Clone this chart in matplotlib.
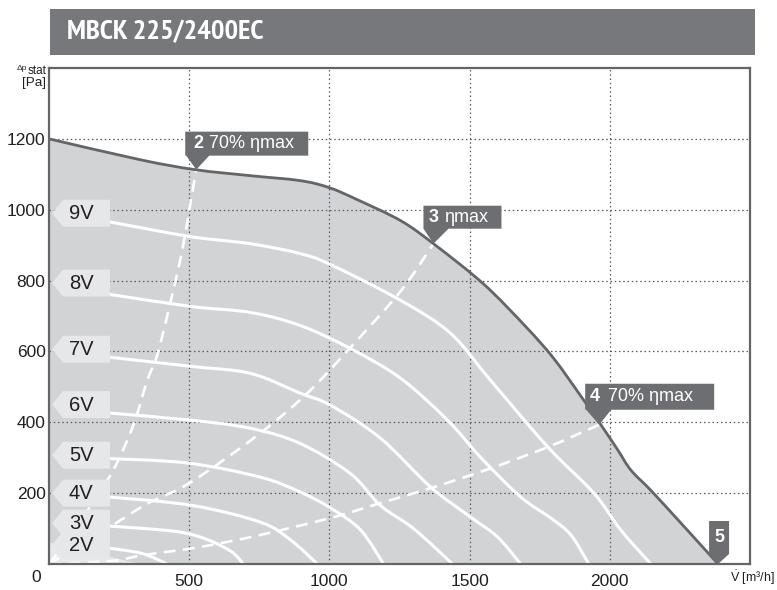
import matplotlib
matplotlib.use("Agg")
import numpy as np
import matplotlib.pyplot as plt
import matplotlib.transforms as mtransforms
from matplotlib import font_manager as fm
from matplotlib.font_manager import FontProperties
from matplotlib.patches import Polygon, Rectangle, PathPatch
from matplotlib.path import Path

plt.rcParams['font.family'] = ['Liberation Sans', 'DejaVu Sans']
plt.rcParams['mathtext.fontset'] = 'custom'
plt.rcParams['mathtext.rm'] = 'Liberation Sans'

# Chart data
title = "MBCK 225/2400EC"

# maximum curve
max_x = [0, 325, 521, 718, 896, 1000, 1100, 1254, 1371, 1550, 1700, 1800, 1900, 1968, 2029, 2075, 2146, 2254, 2386]
max_y = [1200, 1141, 1113, 1096, 1082, 1062, 1028, 969, 904, 790, 670, 580, 470, 393, 321, 265, 208, 115, 0]

# speed curves (control voltage)
v9_x = [200, 504, 718, 896, 1004, 1254, 1432, 1575, 1779, 1943, 2039, 2146]
v9_y = [968, 924, 904, 876, 845, 744, 651, 518, 330, 200, 96, 0]
v8_x = [200, 504, 718, 896, 1075, 1254, 1421, 1539, 1682, 1789, 1861, 1925]
v8_y = [763, 727, 710, 673, 608, 524, 406, 301, 189, 130, 82, 0]
v7_x = [200, 504, 718, 896, 1004, 1182, 1361, 1504, 1600, 1682]
v7_y = [585, 558, 538, 482, 448, 355, 217, 132, 76, 0]
v6_x = [200, 504, 718, 896, 1075, 1182, 1300, 1439]
v6_y = [427, 406, 383, 340, 255, 165, 100, 0]
v5_x = [200, 493, 754, 896, 1004, 1111, 1193]
v5_y = [298, 285, 245, 203, 158, 96, 0]
v4_x = [200, 504, 754, 861, 957]
v4_y = [190, 166, 118, 68, 0]
v3_x = [200, 450, 560, 650, 693]
v3_y = [108, 92, 70, 35, 0]
v2_x = [200, 330, 421]
v2_y = [46, 30, 0]
v1_x = [0, 100, 218, 330]
v1_y = [60, 45, 20, 0]

speed_labels = ["9V", "8V", "7V", "6V", "5V", "4V", "3V", "2V"]
label_y = [990, 793, 606, 450, 307, 200, 115, 54]

# efficiency lines (dashed)
eff2_x = [0, 60, 146, 229, 300, 350, 386, 432, 475, 504, 525]
eff2_y = [0, 60, 161, 265, 390, 518, 590, 735, 885, 1017, 1113]
eff3_x = [0, 218, 350, 504, 743, 921, 1075, 1254, 1371]
eff3_y = [0, 105, 170, 230, 363, 482, 611, 770, 904]
eff4_x = [0, 218, 336, 539, 754, 1014, 1182, 1361, 1575, 1779, 1962]
eff4_y = [0, 8, 25, 48, 82, 132, 172, 214, 270, 330, 393]


def smooth_path(xs, ys, close=False):
    # Catmull-Rom through the points, drawn as cubic Bezier segments
    pts = np.column_stack([xs, ys]).astype(float)
    n = len(pts)
    verts = [pts[0]]
    codes = [Path.MOVETO]
    for i in range(n - 1):
        p0 = pts[i - 1] if i > 0 else pts[i]
        p1, p2 = pts[i], pts[i + 1]
        p3 = pts[i + 2] if i + 2 < n else pts[i + 1]
        verts += [p1 + (p2 - p0) / 6.0, p2 - (p3 - p1) / 6.0, p2]
        codes += [Path.CURVE4] * 3
    if close:
        verts += [(xs[-1], 0), (xs[0], 0), (xs[0], 0)]
        codes += [Path.LINETO, Path.LINETO, Path.CLOSEPOLY]
    return Path(verts, codes)


fig = plt.figure(figsize=(7.77, 5.90), dpi=100)
ax = fig.add_axes([0.0631, 0.0441, 0.9022, 0.8407])
ax.set_xlim(0, 2500)
ax.set_ylim(0, 1400)

fill_col = "#d1d3d4"
dark = "#646569"
box_col = "#6d6e71"

ax.add_patch(PathPatch(smooth_path(max_x, max_y, close=True), facecolor=fill_col,
                       edgecolor="none", zorder=1))
ax.add_patch(PathPatch(smooth_path(v1_x, v1_y, close=True), facecolor="#e8e9ea",
                       edgecolor="none", zorder=1.2))

ax.grid(True, color="#58595b", linestyle=(0, (1.2, 2.2)), linewidth=0.9, zorder=1.5)

for xs, ys in [(v9_x, v9_y), (v8_x, v8_y), (v7_x, v7_y), (v6_x, v6_y),
               (v5_x, v5_y), (v4_x, v4_y), (v3_x, v3_y), (v2_x, v2_y)]:
    ax.add_patch(PathPatch(smooth_path(xs, ys), facecolor="none", edgecolor="white",
                           lw=2.2, zorder=2))

for xs, ys in [(eff2_x, eff2_y), (eff3_x, eff3_y), (eff4_x, eff4_y)]:
    ax.add_patch(PathPatch(smooth_path(xs, ys), facecolor="none", edgecolor="white",
                           lw=1.9, linestyle=(0, (4.5, 2.8)), zorder=2.2))

ax.add_patch(PathPatch(smooth_path(max_x, max_y), facecolor="none", edgecolor=dark,
                       lw=2.0, zorder=3))

# pixel offset transform helper
pix = mtransforms.Affine2D().scale(1.0 / fig.dpi) + fig.dpi_scale_trans


def at(x, y):
    return pix + mtransforms.ScaledTranslation(x, y, ax.transData)


# speed labels on the left
for lab, yy in zip(speed_labels, label_y):
    tr = at(0, yy)
    shape = [(3, 0), (14, 13.5), (61, 13.5), (61, -13.5), (14, -13.5)]
    ax.add_patch(Polygon(shape, closed=True, transform=tr, facecolor="#e6e7e8",
                         edgecolor="none", zorder=5, clip_on=False))
    ax.text(32, -0.5, lab, transform=tr, ha="center", va="center",
            fontsize=14.5, color="#231f20", zorder=6)


# markers on the maximum curve
def marker(x, y, num, rest, left, right, bot, top, tl, trr, nx, rx):
    tr = at(x, y)
    shape = [(0, 0), (trr, bot), (right, bot), (right, top), (left, top),
             (left, bot), (tl, bot)]
    ax.add_patch(Polygon(shape, closed=True, transform=tr, facecolor=box_col,
                         edgecolor="none", zorder=7, clip_on=False))
    cy = (bot + top) / 2.0
    ax.text(nx, cy, num, transform=tr, ha="left", va="center", fontsize=13,
            fontweight="bold", color="white", zorder=8)
    if rest:
        ax.text(rx, cy, rest, transform=tr, ha="left", va="center",
                fontsize=13, color="white", zorder=8)


marker(eff2_x[-1], eff2_y[-1], "2", "70% ηmax", -11, 112, 14, 38, -10, 13, -3, 13)
marker(eff3_x[-1], eff3_y[-1], "3", "ηmax", -10, 68, 15, 38, -10, 15, -5, 11)
marker(eff4_x[-1], eff4_y[-1], "4", "70% ηmax", -14, 115, 15, 41, -13, 12, -9, 9)
marker(max_x[-1], max_y[-1], "5", "", -9, 11, 10, 43, -9, 11, -4, 0)

# axes styling
for sp in ax.spines.values():
    sp.set_color(dark)
    sp.set_linewidth(1.6)
ax.set_xticks([500, 1000, 1500, 2000])
ax.set_yticks([200, 400, 600, 800, 1000, 1200])
ax.tick_params(length=0, labelsize=12.5, colors="#231f20")
ax.tick_params(axis="x", pad=7)
ax.tick_params(axis="y", pad=2.5)
ax.annotate("0", xy=(0, 0), xytext=(-9, -10), textcoords="offset points",
            ha="center", va="center", fontsize=12.5, color="#231f20",
            annotation_clip=False)

# axis labels
fig.text(27 / 777, 1 - 68 / 590, "Δp", ha="right", va="center", fontsize=6, color="#231f20")
fig.text(46 / 777, 1 - 71.5 / 590, "stat", ha="right", va="center", fontsize=8.5, color="#231f20")
fig.text(46 / 777, 1 - 83 / 590, "[Pa]", ha="right", va="center", fontsize=9.7, color="#231f20")
fig.text(775 / 777, 1 - 578 / 590, r"$\dot{\mathrm{V}}$ [m³/h]", ha="right", va="center",
         fontsize=9, color="#231f20")

# title banner, in a condensed bold face if one is installed
title_fp = FontProperties(family="Liberation Sans", weight="bold", size=16)
best = None
for f in fm.fontManager.ttflist:
    if "condensed" in str(f.stretch) and str(f.weight) in ("bold", "700", "600", "semibold", "demibold"):
        if f.style == "normal":
            rank = 0 if "Narrow" in f.name else 1
            if best is None or rank < best[0]:
                best = (rank, f)
if best is not None:
    size = 20.5 if best[0] == 0 else 16
    title_fp = FontProperties(fname=best[1].fname, size=size)

fig.patches.append(Rectangle((50 / 777, 1 - 55 / 590), 705 / 777, 46 / 590,
                             transform=fig.transFigure, facecolor="#77787b",
                             edgecolor="none", zorder=0))
fig.text(67 / 777, 1 - 32.5 / 590, title, ha="left", va="center",
         fontproperties=title_fp, color="white")

fig.savefig("out.png", dpi=100)
